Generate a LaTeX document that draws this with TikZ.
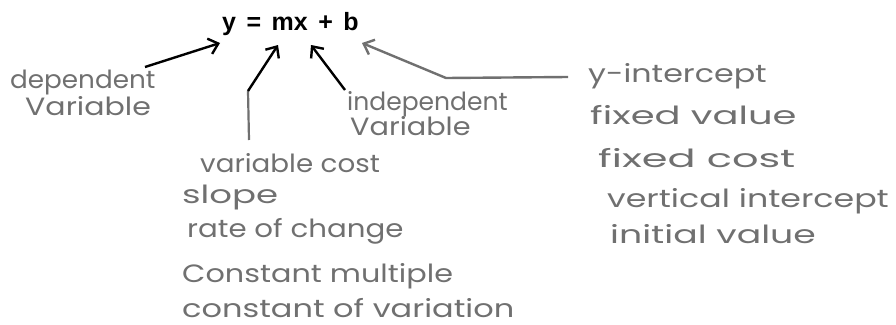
\documentclass[tikz,border=0pt]{standalone}
\usepackage{graphicx}
\usepackage{fontspec}
\setmainfont{Liberation Sans}
\newfontfamily\handfont{Poppins}
\usetikzlibrary{arrows.meta}
\definecolor{handgray}{RGB}{112,112,112}
\newcommand\hw[2]{\scalebox{#1}[1]{#2}}
\newcommand\eqsp{\hspace{10.5pt}}
\begin{document}
\begin{tikzpicture}[x=1pt,y=-1pt,
  hand/.style={font=\handfont\fontsize{25}{25}\selectfont, text=handgray, anchor=base west, inner sep=0pt},
  blackarrow/.style={line width=2.4pt, black, -{Straight Barb[length=9pt,width=16pt,line width=2.4pt]}},
  grayarrow/.style={line width=2.4pt, handgray, -{Straight Barb[length=9pt,width=16pt,line width=2.4pt]}},
  grayline/.style={line width=2.2pt, handgray}]
\useasboundingbox (0,0) rectangle (896,324);
\node[anchor=base west, inner sep=0pt, font=\bfseries\fontsize{25}{25}\selectfont] (eq) at (222,30) {y\eqsp=\eqsp mx\eqsp+\eqsp b};
% left texts
\node[hand] (dep1) at (10,88) {\hw{1.05}{dependent}};
\node[hand] (dep2) at (25,115) {\hw{1.2}{Variable}};
\node[hand] (ind1) at (347,110) {\hw{1.0}{independent}};
\node[hand] (ind2) at (350,135) {\hw{1.15}{Variable}};
\node[hand] (vc) at (200,172) {\hw{1.11}{variable cost}};
\node[hand] (sl) at (182,203) {\hw{1.42}{slope}};
\node[hand] (rc) at (187,237) {\hw{1.17}{rate of change}};
\node[hand] (cm) at (182,282) {\hw{1.21}{Constant multiple}};
\node[hand] (cv) at (182,317) {\hw{1.28}{constant of variation}};
% right texts
\node[hand] (yi) at (588,82) {\hw{1.27}{y-intercept}};
\node[hand] (fv) at (590,124) {\hw{1.54}{fixed value}};
\node[hand] (fc) at (598,167) {\hw{1.66}{fixed cost}};
\node[hand] (vi) at (607,207) {\hw{1.33}{vertical intercept}};
\node[hand] (iv) at (610,243) {\hw{1.45}{initial value}};
% connectors
\coordinate (a1s) at (145,67);
\coordinate (a1e) at (220,43);
\draw[blackarrow] (a1s) -- (a1e);
\coordinate (vctop) at (249,140);
\coordinate (a2s) at (248,91);
\coordinate (a2e) at (278,45);
\draw[grayline] (vctop) -- (a2s);
\draw[blackarrow] (a2s) -- (a2e);
\coordinate (a3s) at (345,90);
\coordinate (a3e) at (311,45);
\draw[blackarrow] (a3s) -- (a3e);
\coordinate (a4s) at (568,77);
\coordinate (a4m) at (446,78);
\coordinate (a4e) at (362,43);
\draw[grayarrow] (a4s) -- (a4m) -- (a4e);
\end{tikzpicture}
\end{document}
